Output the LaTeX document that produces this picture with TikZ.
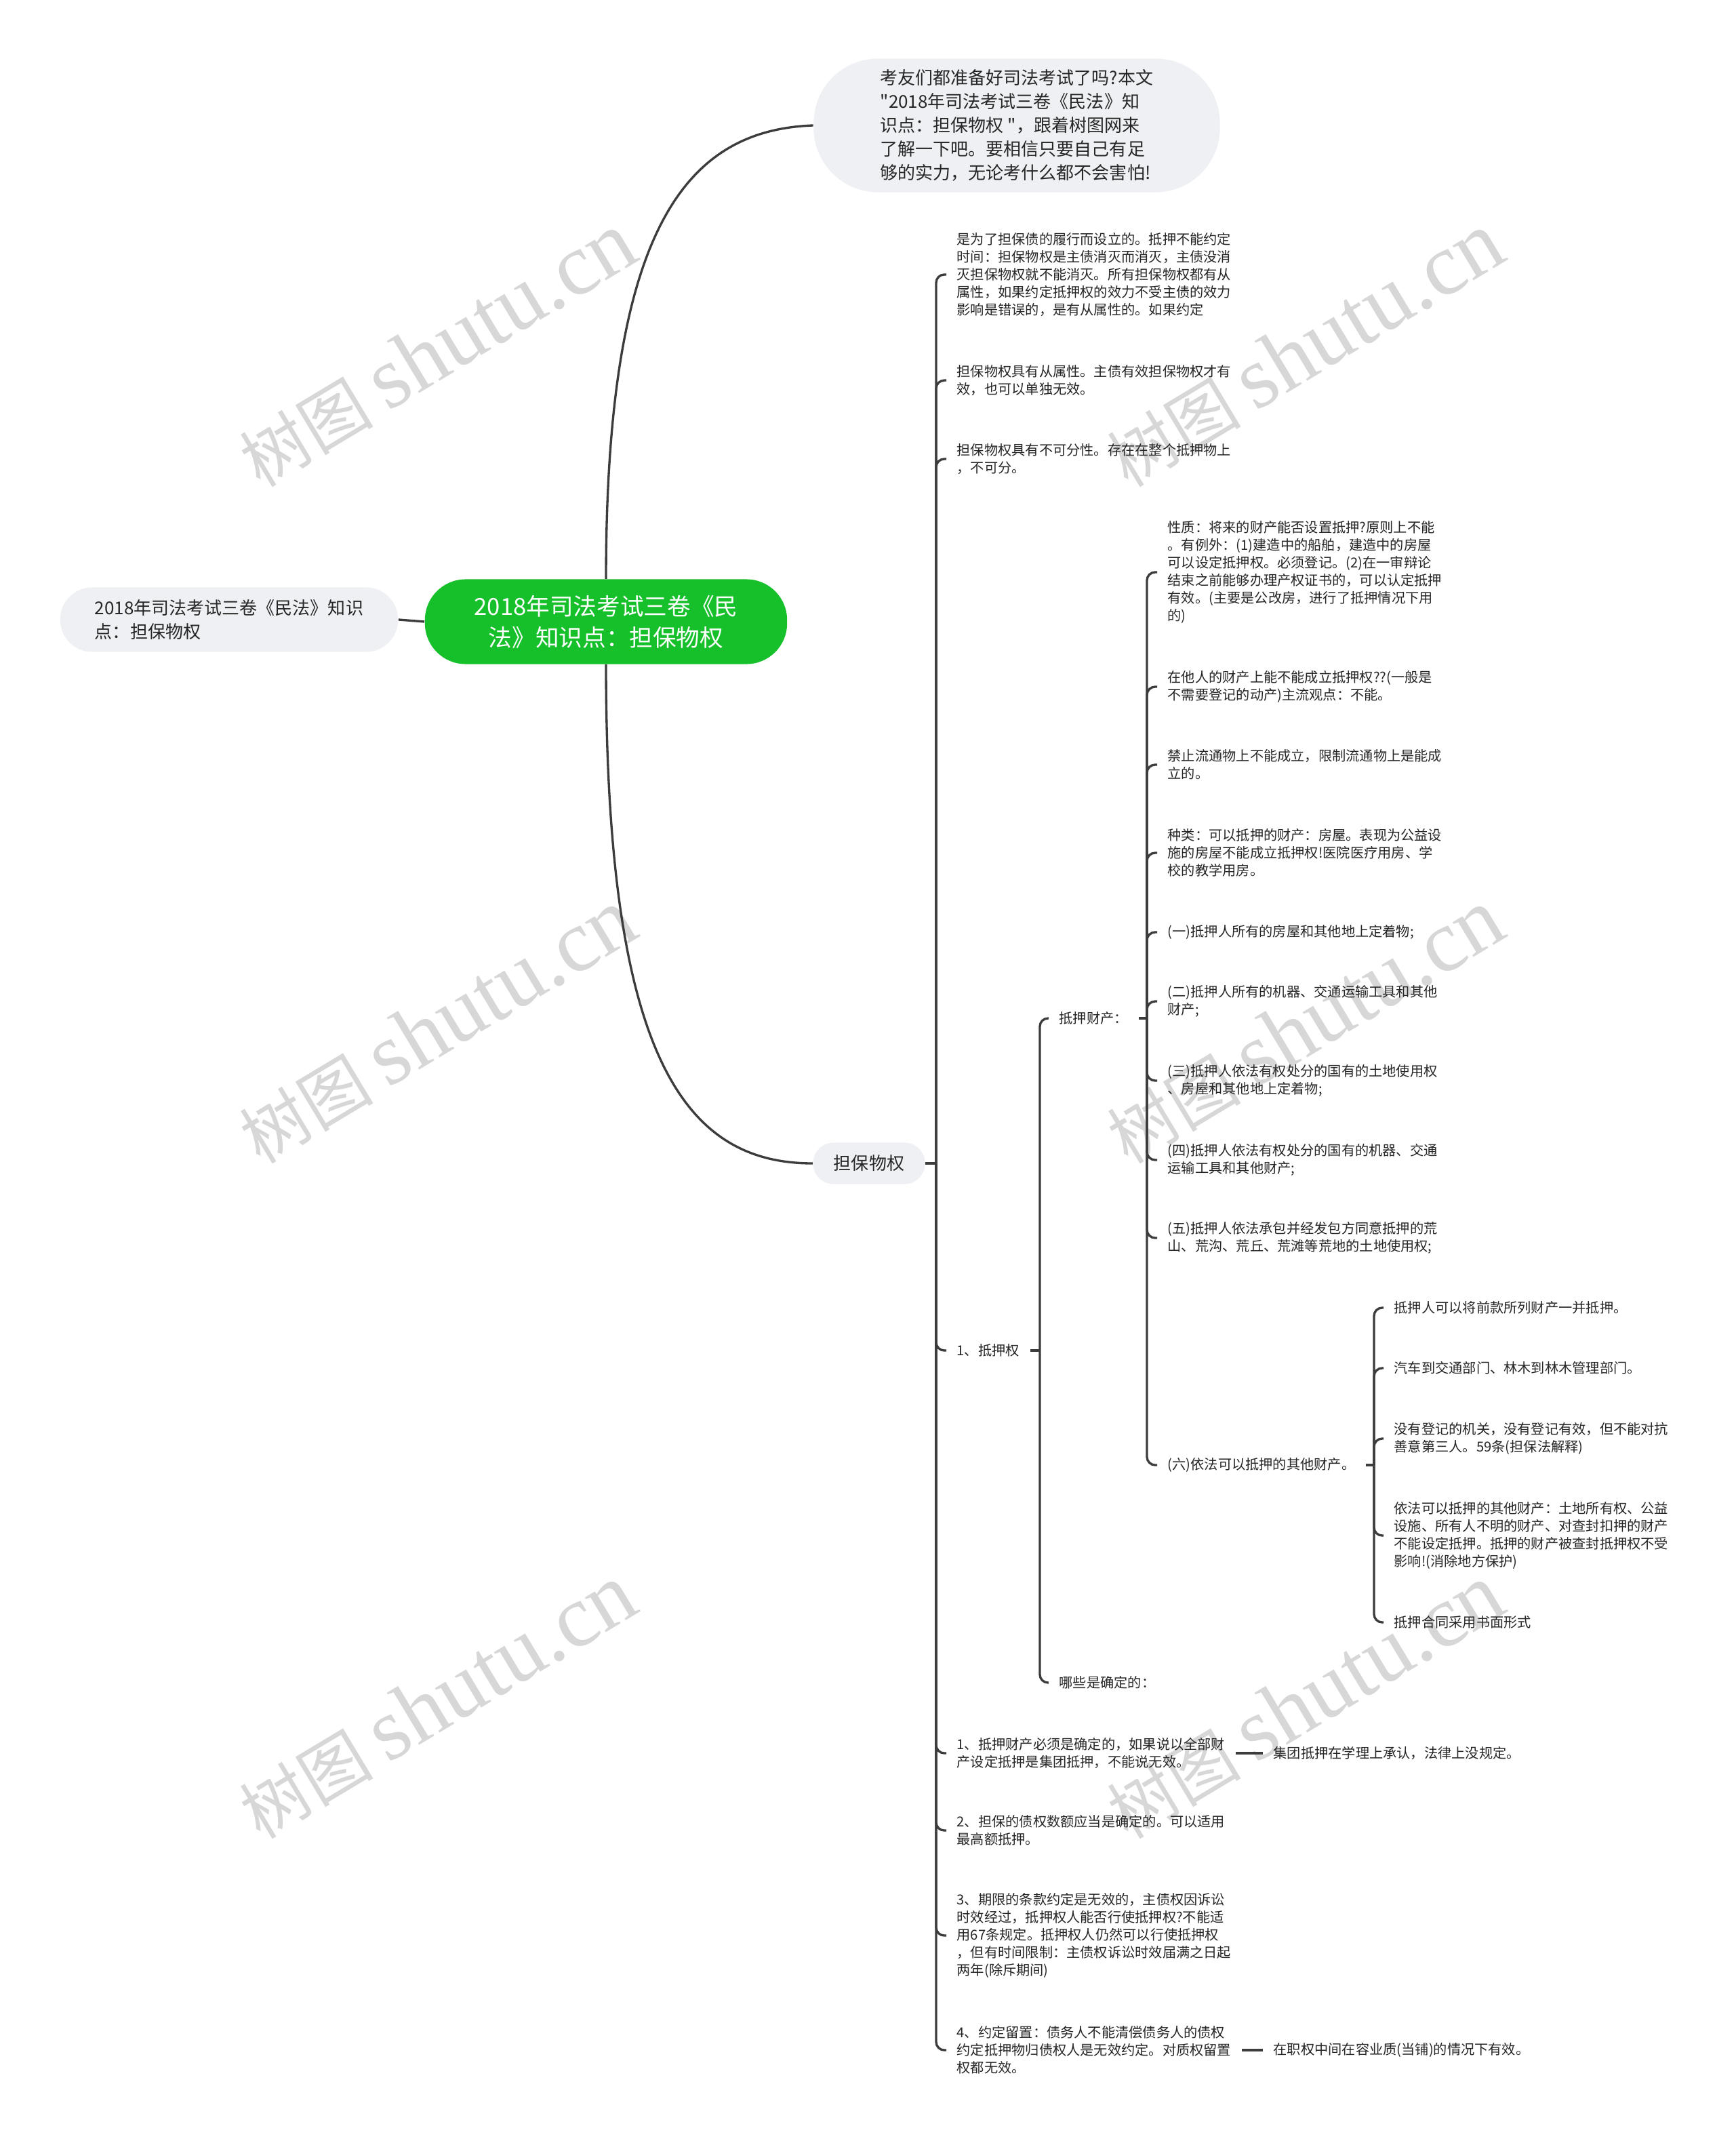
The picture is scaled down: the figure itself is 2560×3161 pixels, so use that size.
\documentclass[tikz,border=0pt]{standalone}
\usepackage{fontspec}
\newfontfamily\cjk{Noto Sans CJK SC}
\newfontfamily\wmserif{Liberation Serif}
\definecolor{txt}{RGB}{38,38,38}
\definecolor{linec}{RGB}{60,60,60}
\definecolor{nodebg}{RGB}{238,240,243}
\definecolor{central}{RGB}{22,192,42}
\definecolor{wmc}{RGB}{215,215,215}
\tikzset{
  conn/.style={draw=linec, line width=0.95pt},
  br/.style={draw=linec, line width=0.95pt, rounded corners=0.12cm},
  leaf/.style={anchor=west, align=left, inner xsep=0.15cm, inner ysep=0pt, text=txt,
    font=\cjk\fontsize{5.75}{7.4}\selectfont},
  pill/.style={fill=nodebg, text=txt, inner sep=0pt, font=\cjk\fontsize{7.4}{9.96}\selectfont},
  wm/.style={text=wmc, rotate=31, inner sep=0pt}
}
\begin{document}
\begin{tikzpicture}[x=0.01cm, y=-0.01cm]
\useasboundingbox (0,0) rectangle (2560,3161);
\fill[white] (0,0) rectangle (2560,3161);

% watermarks
\foreach \wx/\wy [count=\i] in {645/516, 1925/516, 645/1514, 1925/1514, 645/2510, 1925/2510}{
  \node[wm] (wm\i) at (\wx,\wy) {{\cjk\fontsize{28}{30}\selectfont 树图}\hspace{0.22cm}{\wmserif\fontsize{37}{40}\selectfont shutu.cn}};
}

% main nodes
\node[fill=central, text=white, align=center, inner sep=0pt, minimum width=5.34cm, minimum height=1.25cm,
  rounded corners=0.6cm, font=\cjk\fontsize{9.85}{13.1}\selectfont] (root) at (894,917)
  {2018年司法考试三卷《民\\法》知识点：担保物权};
\node[pill, align=left, minimum width=4.98cm, minimum height=0.95cm, rounded corners=0.47cm] (title) at (338,914)
  {2018年司法考试三卷《民法》知识\\点：担保物权};
\node[pill, align=left, minimum width=5.99cm, minimum height=1.97cm, rounded corners=0.95cm] (intro) at (1500,185)
  {考友们都准备好司法考试了吗?本文\\"2018年司法考试三卷《民法》知\\识点：担保物权 "，跟着树图网来\\了解一下吧。要相信只要自己有足\\够的实力，无论考什么都不会害怕!};
\node[pill, minimum width=1.65cm, minimum height=0.61cm, rounded corners=0.3cm] (dbwq) at (1282,1716) {担保物权};

\draw[conn] (root.west) -- (title.east);
\draw[conn] (root.north) .. controls (894,340) and (1010,192) .. (intro.west);
\draw[conn] (root.south) .. controls (894,1560) and (1010,1716) .. (dbwq.west);

% level 2
\coordinate (t1) at (1381,1716);
\draw[conn] (dbwq.east) -- (t1);
\node[leaf] (a1) at (1396,405) {是为了担保债的履行而设立的。抵押不能约定\\时间：担保物权是主债消灭而消灭，主债没消\\灭担保物权就不能消灭。所有担保物权都有从\\属性，如果约定抵押权的效力不受主债的效力\\影响是错误的，是有从属性的。如果约定};
\node[leaf] (a2) at (1396,561) {担保物权具有从属性。主债有效担保物权才有\\效，也可以单独无效。};
\node[leaf] (a3) at (1396,677) {担保物权具有不可分性。存在在整个抵押物上\\，不可分。};
\node[leaf] (a4) at (1396,1992) {1、抵押权};
\node[leaf] (a5) at (1396,2586) {1、抵押财产必须是确定的，如果说以全部财\\产设定抵押是集团抵押，不能说无效。};
\node[leaf] (a6) at (1396,2700) {2、担保的债权数额应当是确定的。可以适用\\最高额抵押。};
\node[leaf] (a7) at (1396,2855) {3、期限的条款约定是无效的，主债权因诉讼\\时效经过，抵押权人能否行使抵押权?不能适\\用67条规定。抵押权人仍然可以行使抵押权\\，但有时间限制：主债权诉讼时效届满之日起\\两年(除斥期间)};
\node[leaf] (a8) at (1396,3024) {4、约定留置：债务人不能清偿债务人的债权\\约定抵押物归债权人是无效约定。对质权留置\\权都无效。};
\node[leaf] (a5x) at (1863,2586) {集团抵押在学理上承认，法律上没规定。};
\node[leaf] (a8x) at (1863,3024) {在职权中间在容业质(当铺)的情况下有效。};
\foreach \n in {a1,a2,a3,a4,a5,a6,a7,a8} \draw[br] (t1) |- (\n.west);
\draw[conn] (a5.east) -- (a5x.west);
\draw[conn] (a8.east) -- (a8x.west);

% level 3
\coordinate (t2) at (1534,1992);
\draw[conn] (a4.east) -- (t2);
\node[leaf] (b1) at (1547,1502) {抵押财产：};
\node[leaf] (b2) at (1547,2482) {哪些是确定的：};
\foreach \n in {b1,b2} \draw[br] (t2) |- (\n.west);

% level 4
\coordinate (t3) at (1692,1502);
\draw[conn] (b1.east) -- (t3);
\node[leaf] (c1) at (1707,844) {性质：将来的财产能否设置抵押?原则上不能\\。有例外：(1)建造中的船舶，建造中的房屋\\可以设定抵押权。必须登记。(2)在一审辩论\\结束之前能够办理产权证书的，可以认定抵押\\有效。(主要是公改房，进行了抵押情况下用\\的)};
\node[leaf] (c2) at (1707,1013) {在他人的财产上能不能成立抵押权??(一般是\\不需要登记的动产)主流观点：不能。};
\node[leaf] (c3) at (1707,1128) {禁止流通物上不能成立，限制流通物上是能成\\立的。};
\node[leaf] (c4) at (1707,1258) {种类：可以抵押的财产：房屋。表现为公益设\\施的房屋不能成立抵押权!医院医疗用房、学\\校的教学用房。};
\node[leaf] (c5) at (1707,1375) {(一)抵押人所有的房屋和其他地上定着物;};
\node[leaf] (c6) at (1707,1477) {(二)抵押人所有的机器、交通运输工具和其他\\财产;};
\node[leaf] (c7) at (1707,1594) {(三)抵押人依法有权处分的国有的土地使用权\\、房屋和其他地上定着物;};
\node[leaf] (c8) at (1707,1711) {(四)抵押人依法有权处分的国有的机器、交通\\运输工具和其他财产;};
\node[leaf] (c9) at (1707,1826) {(五)抵押人依法承包并经发包方同意抵押的荒\\山、荒沟、荒丘、荒滩等荒地的土地使用权;};
\node[leaf] (c10) at (1707,2161) {(六)依法可以抵押的其他财产。};
\foreach \n in {c1,c2,c3,c4,c5,c6,c7,c8,c9,c10} \draw[br] (t3) |- (\n.west);

% level 5
\coordinate (t4) at (2027,2161);
\draw[conn] (c10.east) -- (t4);
\node[leaf] (d1) at (2041,1929) {抵押人可以将前款所列财产一并抵押。};
\node[leaf] (d2) at (2041,2018) {汽车到交通部门、林木到林木管理部门。};
\node[leaf] (d3) at (2041,2122) {没有登记的机关，没有登记有效，但不能对抗\\善意第三人。59条(担保法解释)};
\node[leaf] (d4) at (2041,2265) {依法可以抵押的其他财产：土地所有权、公益\\设施、所有人不明的财产、对查封扣押的财产\\不能设定抵押。抵押的财产被查封抵押权不受\\影响!(消除地方保护)};
\node[leaf] (d5) at (2041,2393) {抵押合同采用书面形式};
\foreach \n in {d1,d2,d3,d4,d5} \draw[br] (t4) |- (\n.west);
\end{tikzpicture}
\end{document}
